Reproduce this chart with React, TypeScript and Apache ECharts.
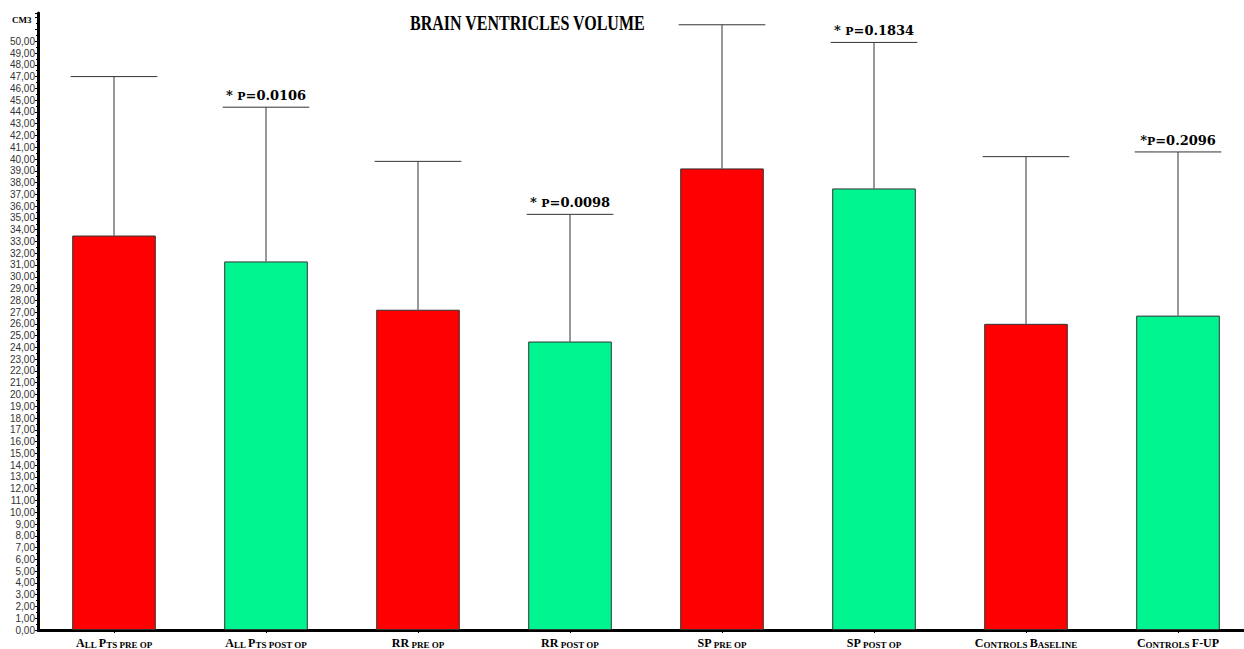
import React, { useEffect, useRef } from "react";
import * as echarts from "echarts";

const categories = [
  "All Pts pre op",
  "All Pts post op",
  "RR pre op",
  "RR post op",
  "SP pre op",
  "SP post op",
  "Controls Baseline",
  "Controls F-UP",
];
const means = [33.5, 31.3, 27.2, 24.5, 39.2, 37.5, 26.0, 26.7];
const upper = [47.0, 44.4, 39.8, 35.3, 51.4, 49.9, 40.2, 40.6];
const pLabels = ["", "* P=0.0106", "", "* P=0.0098", "", "* P=0.1834", "", "*P=0.2096"];
const barColors = ["#FF0000", "#00F590"];

const SERIF = "'Liberation Serif', 'DejaVu Serif', serif";
const PSERIF = "'DejaVu Serif', 'Liberation Serif', serif";

function smallCaps(s: string, big: string, small: string): string {
  let out = "";
  let cur = "";
  let curType = "";
  const flush = () => {
    if (cur) out += `{${curType}|${cur}}`;
    cur = "";
  };
  for (const ch of s) {
    const t = ch >= "a" && ch <= "z" ? small : ch === " " ? small : big;
    if (t !== curType) {
      flush();
      curType = t;
    }
    cur += ch.toUpperCase();
  }
  flush();
  return out;
}

export default function App() {
  const ref = useRef<HTMLDivElement>(null);
  useEffect(() => {
    if (!ref.current) return;
    const chart = echarts.init(ref.current, null, { renderer: "svg" });
    const capRich = {
      b: { fontFamily: SERIF, fontWeight: "bold", fontSize: 12, color: "#000", verticalAlign: "bottom" },
      s: { fontFamily: SERIF, fontWeight: "bold", fontSize: 9, color: "#000", verticalAlign: "bottom" },
    };
    const pRich = {
      n: { fontFamily: PSERIF, fontWeight: "bold", fontSize: 13, color: "#000", verticalAlign: "bottom" },
      p: { fontFamily: PSERIF, fontWeight: "bold", fontSize: 11, color: "#000", verticalAlign: "bottom" },
    };
    const fmtP = (t: string) => {
      const i = t.indexOf("P");
      return `{n|${t.slice(0, i)}}{p|P}{n|${t.slice(i + 1)}}`;
    };
    chart.setOption({
      animation: false,
      backgroundColor: "#fff",
      grid: { left: 38, top: 13, bottom: 19, right: 0 },
      graphic: [
        {
          type: "text",
          x: 410,
          y: 13,
          scaleX: 0.8,
          style: {
            text: "BRAIN VENTRICLES VOLUME",
            fontFamily: SERIF,
            fontWeight: "bold",
            fontSize: 20,
            fill: "#000",
          },
        },
        {
          type: "text",
          x: 12,
          y: 15,
          style: {
            text: "CM3",
            fontFamily: SERIF,
            fontWeight: "bold",
            fontSize: 9,
            fill: "#000",
          },
        },
      ],
      xAxis: {
        type: "category",
        data: categories,
        offset: 3,
        axisLine: { lineStyle: { color: "#000", width: 3 } },
        axisTick: { show: true, alignWithLabel: true, length: 3, lineStyle: { color: "#000" } },
        axisLabel: {
          margin: 4,
          interval: 0,
          formatter: (v: string) => smallCaps(v, "b", "s"),
          rich: capRich,
        },
      },
      yAxis: {
        type: "value",
        min: 0,
        max: 52.4,
        interval: 1,
        splitLine: { show: false },
        axisLine: { show: true, lineStyle: { color: "#000", width: 3 } },
        axisTick: { show: true, length: 3, lineStyle: { color: "#000" } },
        minorTick: { show: true, splitNumber: 2, length: 2, lineStyle: { color: "#000" } },
        axisLabel: {
          margin: 3,
          fontFamily: "'Liberation Sans', Arial, sans-serif",
          fontSize: 10,
          color: "#333",
          formatter: (v: number) => (v <= 50 && Number.isInteger(v) ? v.toFixed(2).replace(".", ",") : ""),
        },
      },
      series: [
        {
          type: "bar",
          barWidth: "55%",
          data: means.map((v, i) => ({
            value: v,
            itemStyle: { color: barColors[i % 2], borderColor: "#333", borderWidth: 1 },
          })),
        },
        {
          type: "custom",
          data: categories.map((_, i) => [i, means[i], upper[i]]),
          renderItem: (params: any, api: any) => {
            const x = api.value(0);
            const lo = api.coord([x, api.value(1)]);
            const hi = api.coord([x, api.value(2)]);
            const w = api.size([1, 0])[0] * 0.57;
            const idx = params.dataIndex;
            const children: any[] = [
              {
                type: "line",
                shape: { x1: lo[0], y1: lo[1], x2: hi[0], y2: hi[1] },
                style: { stroke: "#333", lineWidth: 1 },
              },
              {
                type: "line",
                shape: { x1: hi[0] - w / 2, y1: hi[1], x2: hi[0] + w / 2, y2: hi[1] },
                style: { stroke: "#333", lineWidth: 1 },
              },
            ];
            if (pLabels[idx]) {
              children.push({
                type: "text",
                x: hi[0],
                y: hi[1] - 5,
                style: {
                  text: fmtP(pLabels[idx]),
                  rich: pRich,
                  align: "center",
                  verticalAlign: "bottom",
                },
              });
            }
            return { type: "group", children };
          },
          z: 3,
        },
      ],
    });
    return () => chart.dispose();
  }, []);
  return (
    <div style={{ position: "fixed", left: 0, top: 0, width: 1244, height: 649, overflow: "hidden" }}>
      <div ref={ref} style={{ width: 1254, height: 649 }} />
    </div>
  );
}
